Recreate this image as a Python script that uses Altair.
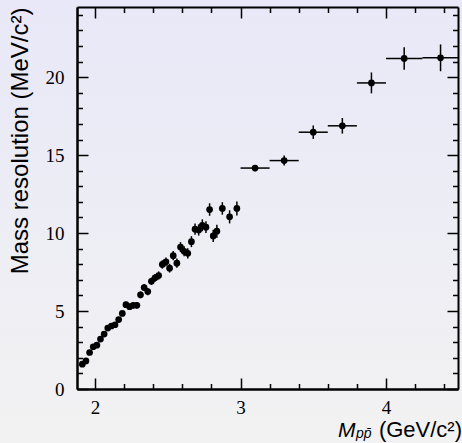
import altair as alt
import pandas as pd

# ---- data ----
mass_lo = [1.9125, 1.9375, 1.9625, 1.9875, 2.0125, 2.0375, 2.0625, 2.0875, 2.1125, 2.1375,
           2.1625, 2.1875, 2.2125, 2.2375, 2.2625, 2.2875, 2.3125, 2.3375, 2.3625, 2.3875,
           2.4125, 2.4375, 2.4625, 2.4875, 2.5125, 2.5375, 2.5625, 2.5875, 2.6125, 2.6375,
           2.6625, 2.6875, 2.7125, 2.7375, 2.7625, 2.7875, 2.8125, 2.8375, 2.875, 2.925, 2.975]
res_lo = [1.59, 1.80, 2.34, 2.71, 2.81, 3.20, 3.52, 3.91, 4.04, 4.12,
          4.45, 4.85, 5.41, 5.28, 5.37, 5.37, 6.04, 6.51, 6.25, 6.91,
          7.13, 7.28, 7.99, 8.16, 7.75, 8.55, 8.07, 9.10, 8.83, 8.70,
          9.45, 10.25, 10.20, 10.50, 10.38, 11.51, 9.82, 10.12, 11.58, 11.04, 11.58]
err_lo = [0.12, 0.12, 0.13, 0.13, 0.14, 0.15, 0.15, 0.16, 0.16, 0.17,
          0.18, 0.18, 0.19, 0.19, 0.20, 0.21, 0.22, 0.22, 0.23, 0.24,
          0.25, 0.26, 0.27, 0.28, 0.28, 0.30, 0.30, 0.32, 0.32, 0.33,
          0.35, 0.36, 0.36, 0.38, 0.38, 0.40, 0.40, 0.42, 0.40, 0.42, 0.45]

mass_hi = [3.1, 3.3, 3.5, 3.7, 3.9, 4.125, 4.375]
bin_start = [3.0, 3.2, 3.4, 3.6, 3.8, 4.0, 4.25]
bin_end = [3.2, 3.4, 3.6, 3.8, 4.0, 4.25, 4.5]
res_hi = [14.17, 14.65, 16.47, 16.88, 19.63, 21.20, 21.24]
err_hi = [0.20, 0.32, 0.43, 0.50, 0.67, 0.72, 0.86]

x_ticks = [2.0, 2.2, 2.4, 2.6, 2.8, 3.0, 3.2, 3.4, 3.6, 3.8, 4.0, 4.2, 4.4]
y_ticks = list(range(0, 25))
x_labels = [2, 3, 4]
y_labels = [0, 5, 10, 15, 20]

y_title = "Mass resolution (MeV/c²)"
x_title_main = "M"
x_title_sub = "pp\u0304"
x_title_unit = "(GeV/c²)"

# ---- layout ----
W, H = 381, 382
PAD = {"left": 77, "top": 7, "right": 4, "bottom": 54}
XDOM = [1.876, 4.495]
YDOM = [0, 24.5]

pts = pd.DataFrame({"m": mass_lo + mass_hi, "r": res_lo + res_hi, "e": err_lo + err_hi})
pts["lo"] = pts["r"] - pts["e"]
pts["hi"] = pts["r"] + pts["e"]
bins = pd.DataFrame({"m0": bin_start, "m1": bin_end, "r": res_hi})

xs = alt.Scale(domain=XDOM, nice=False, zero=False)
ys = alt.Scale(domain=YDOM, nice=False, zero=False)

common = dict(domainColor="black", domainWidth=2, tickColor="black", tickWidth=1.5,
              grid=False, zindex=2)
major_x = "abs(datum.value - round(datum.value)) < 0.001"
major_y = "datum.value % 5 == 0"
tsx = {"condition": {"test": major_x, "value": 11}, "value": 5.5}
tsy = {"condition": {"test": major_y, "value": 11}, "value": 5.5}

x_label_axis = alt.Axis(orient="bottom", values=x_labels, ticks=False, labels=True,
                        labelFont="Liberation Serif", labelFontSize=19, labelColor="black",
                        labelPadding=9, title=None, **common)
y_label_axis = alt.Axis(orient="left", values=y_labels, ticks=False, labels=True,
                        labelFont="Liberation Serif", labelFontSize=19, labelColor="black",
                        labelPadding=13, title=y_title, titleFont="Liberation Sans",
                        titleFontSize=24, titleFontWeight="normal", titleColor="black",
                        titleAnchor="end", titlePadding=13, **common)
x_ticks_bottom = alt.Axis(orient="top", offset=-H, values=x_ticks, labels=False, title=None,
                          tickSize=tsx, **common)
x_ticks_top = alt.Axis(orient="bottom", offset=-H, values=x_ticks, labels=False, title=None,
                       tickSize=tsx, **common)
y_ticks_left = alt.Axis(orient="right", offset=-W, values=y_ticks, labels=False, title=None,
                        tickSize=tsy, **common)
y_ticks_right = alt.Axis(orient="left", offset=-W, values=y_ticks, labels=False, title=None,
                         tickSize=tsy, **common)

one = alt.Data(values=[{}])

bg = alt.Chart(one).mark_rect(
    color=alt.LinearGradient(gradient="linear", x1=0, y1=0, x2=0, y2=1,
                             stops=[alt.GradientStop(offset=0, color="#e8e8f8"),
                                    alt.GradientStop(offset=1, color="#f2f2f2")])
).encode(x=alt.value(-PAD["left"]), x2=alt.value(W + PAD["right"]),
         y=alt.value(-PAD["top"]), y2=alt.value(H + PAD["bottom"]))

xerr = alt.Chart(bins).mark_rule(color="black", strokeWidth=1.5, clip=True).encode(
    x=alt.X("m0:Q", scale=xs, axis=x_ticks_top),
    x2="m1:Q",
    y=alt.Y("r:Q", scale=ys, axis=y_ticks_right),
)
yerr = alt.Chart(pts).mark_rule(color="black", strokeWidth=1.5, clip=True).encode(
    x=alt.X("m:Q", scale=xs, axis=x_ticks_bottom),
    y=alt.Y("lo:Q", scale=ys, axis=y_ticks_left),
    y2="hi:Q",
)
dots = alt.Chart(pts).mark_circle(color="black", opacity=1, size=45).encode(
    x=alt.X("m:Q", scale=xs, axis=x_label_axis),
    y=alt.Y("r:Q", scale=ys, axis=y_label_axis),
)

t_unit = alt.Chart(one).mark_text(text=x_title_unit, font="Liberation Sans", fontSize=22,
                                  align="right", baseline="alphabetic", color="black").encode(
    x=alt.value(W + 4), y=alt.value(H + 48))
t_main = alt.Chart(one).mark_text(text=x_title_main, font="Liberation Sans", fontSize=21,
                                  fontStyle="italic", align="left", baseline="alphabetic",
                                  color="black").encode(
    x=alt.value(W - 120), y=alt.value(H + 48))
t_sub = alt.Chart(one).mark_text(text=x_title_sub, font="Liberation Sans", fontSize=14,
                                 fontStyle="italic", align="left", baseline="alphabetic",
                                 color="black").encode(
    x=alt.value(W - 102), y=alt.value(H + 49))

chart = alt.layer(bg, xerr, yerr, dots, t_unit, t_main, t_sub).resolve_axis(
    x="independent", y="independent"
).properties(
    width=W, height=H, padding=PAD, background="#ededf5",
    autosize=alt.AutoSizeParams(type="none"),
).configure_view(stroke=None)

chart.save("out.html", embed_options={"renderer": "svg", "actions": False})
